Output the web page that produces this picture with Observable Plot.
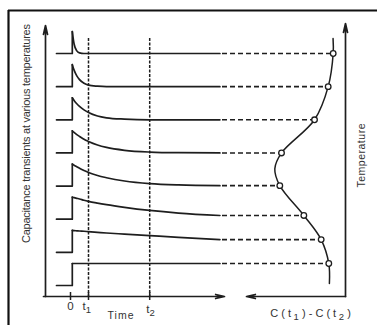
<!DOCTYPE html>
<html><head><meta charset="utf-8">
<script src="https://cdn.jsdelivr.net/npm/d3@7"></script>
<script src="https://cdn.jsdelivr.net/npm/@observablehq/plot@0.6"></script>
<style>
html,body{margin:0;padding:0;background:#fff;}
#chart{width:377px;height:325px;overflow:hidden;}
#chart svg{display:block;background:#fff;}
</style></head><body><div id="chart"></div>
<script>
// ---------------- data ----------------
// temperature rows, top = highest temperature
const levels = [8, 7, 6, 5, 4, 3, 2, 1];
// gate times of the rate window
const t1 = 1.0, t2 = 4.4;
const tickTimes = [0, t1, t2];
const tickLabels = ["0", "t1", "t2"];
// time at which the transient is sampled (after the filling pulse)
const sampleTimes = [0.1, 0.2, 0.35, 0.5, 0.75, 1, 1.5, 2, 3, 4.4, 6, 8.3];
// normalised capacitance transient (1 = height of the step) at each sample time, one row per temperature
const transient1 = [1, 0.43, 0.12, 0.03, 0, 0, 0, 0, 0, 0, 0, 0];
const transient2 = [1, 0.75, 0.49, 0.32, 0.15, 0.07, 0.02, 0, 0, 0, 0, 0];
const transient3 = [1, 0.88, 0.73, 0.61, 0.45, 0.33, 0.17, 0.09, 0.03, 0, 0, 0];
const transient4 = [1, 0.93, 0.83, 0.75, 0.62, 0.52, 0.36, 0.25, 0.12, 0.04, 0.01, 0];
const transient5 = [1, 0.95, 0.88, 0.81, 0.71, 0.62, 0.48, 0.38, 0.23, 0.11, 0.05, 0.02];
const transient6 = [1, 0.98, 0.95, 0.92, 0.86, 0.81, 0.73, 0.66, 0.54, 0.40, 0.28, 0.17];
const transient7 = [1, 0.99, 0.98, 0.97, 0.96, 0.94, 0.91, 0.88, 0.83, 0.76, 0.68, 0.58];
const transient8 = [1, 1, 1, 1, 1, 1, 1, 1, 1, 1, 1, 1];
const transients = [transient1, transient2, transient3, transient4, transient5, transient6, transient7, transient8];
// DLTS signal C(t1)-C(t2) (normalised, 1 = peak) read at each temperature row
const dltsSignal = [0.038, 0.12, 0.344, 0.885, 0.913, 0.519, 0.235, 0.11];
// extra points of the DLTS curve: top end, peak, bottom end
const dltsExtraLevels = [8.45, 4.52, 1.06];
const dltsExtraSignal = [0.04, 0.995, 0.10];
const yTitle = "Capacitance transients at various temperatures";
const rightTitle = "Temperature";
const xTitle = "Time";
const sTitle = "C(t1) -C(t2)";

// ---------------- layout ----------------
const W = 377, H = 325;
const xDomain = [0, 15], xRange = [70, 340];
const yDomain = [1, 8], yRange = [285, 53];
const X = d3.scaleLinear(xDomain, xRange);
const Y = d3.scaleLinear(yDomain, yRange);
const S2X = d3.scaleLinear([0, 1], [335, 274]);
const sx = s => X.invert(S2X(s));
const px = v => X.invert(v), py = v => Y.invert(v);
const stepHeight = Y.invert(285 - 22) - 1; // height of capacitance step in row units
const pulseT = 0.1, stubT = px(56), dashStart = px(222);
const ink = "#1e1e1e", textInk = "#333";

// ---------------- derived geometry ----------------
const stubs = [], decays = [], dashes = [], circles = [];
transients.forEach((vals, i) => {
  const lv = levels[i];
  stubs.push({id: i, t: stubT, y: lv}, {id: i, t: pulseT, y: lv}, {id: i, t: pulseT, y: lv + vals[0] * stepHeight});
  vals.forEach((c, j) => decays.push({id: i, t: sampleTimes[j], y: lv + c * stepHeight}));
  const yEnd = lv + vals[vals.length - 1] * stepHeight;
  dashes.push({y: yEnd, x1: dashStart, x2: sx(dltsSignal[i])});
  circles.push({x: sx(dltsSignal[i]), y: yEnd});
});
const dltsCurve = circles.map(c => ({x: c.x, y: c.y}))
  .concat(dltsExtraLevels.map((l, k) => ({x: sx(dltsExtraSignal[k]), y: l})))
  .sort((a, b) => b.y - a.y);

const axisY = py(296), topY = py(25), rightTopY = py(23);
const leftAxisX = px(45), rightAxisX = px(345);
const timeArrowEnd = px(224), sArrowEnd = px(246);
const gateTop = py(38);
const arrowStyle = {stroke: ink, strokeWidth: 1.7, headLength: 8, headAngle: 26};

const chart = Plot.plot({
  width: W, height: H,
  x: {domain: xDomain, range: xRange, axis: null},
  y: {domain: yDomain, range: yRange, axis: null},
  style: {background: "#fff", overflow: "visible"},
  marks: [
    // outer frame (left and top edges)
    Plot.ruleX([px(8)], {y1: py(10), y2: py(340), stroke: "#111", strokeWidth: 2.2}),
    Plot.ruleY([py(10)], {x1: px(8), x2: px(390), stroke: "#111", strokeWidth: 2.2}),
    // gate lines t1, t2
    Plot.ruleX([t1, t2], {y1: gateTop, y2: axisY, stroke: ink, strokeWidth: 1.5, strokeDasharray: "3,1.5"}),
    // axes
    Plot.arrow([0], {x1: leftAxisX, y1: axisY, x2: leftAxisX, y2: topY, ...arrowStyle}),
    Plot.arrow([0], {x1: rightAxisX, y1: axisY, x2: rightAxisX, y2: rightTopY, ...arrowStyle}),
    Plot.arrow([0], {x1: px(43), y1: axisY, x2: timeArrowEnd, y2: axisY, ...arrowStyle}),
    Plot.arrow([0], {x1: rightAxisX, y1: axisY, x2: sArrowEnd, y2: axisY, ...arrowStyle}),
    Plot.ruleX(tickTimes, {y1: py(292), y2: py(300), stroke: ink, strokeWidth: 1.5}),
    // transients
    Plot.line(stubs, {x: "t", y: "y", z: "id", stroke: ink, strokeWidth: 1.7}),
    Plot.line(decays, {x: "t", y: "y", z: "id", stroke: ink, strokeWidth: 1.7, curve: "monotone-x"}),
    Plot.ruleY(dashes, {y: "y", x1: "x1", x2: "x2", stroke: ink, strokeWidth: 1.6, strokeDasharray: "5,3"}),
    // DLTS spectrum
    Plot.line(dltsCurve, {x: "x", y: "y", stroke: ink, strokeWidth: 1.5, curve: "catmull-rom"}),
    Plot.dot(circles, {x: "x", y: "y", r: 2.8, fill: "#fff", stroke: ink, strokeWidth: 1.3}),
    // labels
    Plot.text([yTitle], {x: px(26), y: py(133), rotate: -90, fontSize: 11, fill: textInk}),
    Plot.text([rightTitle], {x: px(361), y: py(155), rotate: -90, fontSize: 10.5, fill: textInk}),
    Plot.text(tickLabels, {x: (d, i) => tickTimes[i] + [0, -0.1, 0.05][i], y: (d, i) => py([306, 306, 309][i]), fontSize: 11.5, fill: textInk}),
    Plot.text([xTitle], {x: px(120), y: py(315.5), fontSize: 10.5, fill: textInk}),
    Plot.text([sTitle], {x: px(310), y: py(313), fontSize: 11, fill: textInk})
  ]
});
chart.setAttribute("font-family", "'Liberation Sans', Arial, sans-serif");
document.getElementById("chart").append(chart);
// stretch labels to the lengths measured on the picture, and set subscripts
const lengths = {[yTitle]: 219, [rightTitle]: 64, [xTitle]: 26};
const NS = "http://www.w3.org/2000/svg";
function sub(t, parts) {
  t.textContent = "";
  parts.forEach(([s, isSub]) => {
    const ts = document.createElementNS(NS, "tspan");
    ts.textContent = s;
    if (isSub) { ts.setAttribute("dy", "3"); ts.setAttribute("font-size", "9.5"); }
    else if (t.childNodes.length) { ts.setAttribute("dy", "-3"); }
    t.append(ts);
  });
}
chart.querySelectorAll("text").forEach(t => {
  const s = t.textContent;
  const L = lengths[s];
  if (L) { t.setAttribute("textLength", L); t.setAttribute("lengthAdjust", "spacing"); }
  if (s === "t1") sub(t, [["t", 0], ["1", 1]]);
  if (s === "t2") sub(t, [["t", 0], ["2", 1]]);
  if (s === sTitle) { sub(t, [["C ( t", 0], [" 1", 1], [" ) - C ( t", 0], [" 2", 1], [" )", 0]]); }
});
</script></body></html>
